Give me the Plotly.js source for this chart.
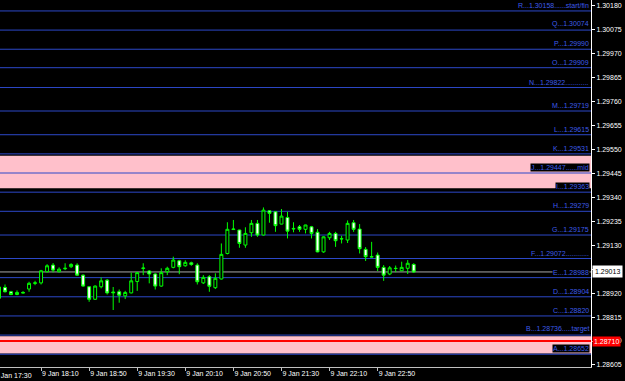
<!DOCTYPE html>
<html><head><meta charset="utf-8">
<script src="https://cdn.plot.ly/plotly-3.0.1.min.js"></script>
<style>html,body{margin:0;padding:0;background:#000;overflow:hidden}#chart{width:625px;height:381px}</style>
</head><body><div id="chart"></div>
<script>
const day = '2013-01-09 ';
const times = ['17:35','17:40','17:45','17:50','17:55',
 '18:00','18:05','18:10','18:15','18:20','18:25','18:30','18:35','18:40','18:45','18:50','18:55',
 '19:00','19:05','19:10','19:15','19:20','19:25','19:30','19:35','19:40','19:45','19:50','19:55',
 '20:00','20:05','20:10','20:15','20:20','20:25','20:30','20:35','20:40','20:45','20:50','20:55',
 '21:00','21:05','21:10','21:15','21:20','21:25','21:30','21:35','21:40','21:45','21:50','21:55',
 '22:00','22:05','22:10','22:15','22:20','22:25','22:30','22:35','22:40','22:45','22:50','22:55',
 '23:00','23:05','23:10','23:15','23:20'];
const open = [1.28947,1.28945,1.28926,1.28914,1.28923,1.28938,1.28963,1.28965,1.29014,1.29043,
 1.29014,1.29027,1.29036,1.29043,1.28999,1.28948,1.28893,1.28948,1.28977,1.28925,
 1.28926,1.28908,1.28921,1.28971,1.29028,1.29017,1.29004,1.28951,1.29014,1.29033,
 1.29062,1.29040,1.29053,1.29043,1.28965,1.28992,1.28944,1.28982,1.29094,1.29199,
 1.29197,1.29131,1.29185,1.29226,1.29175,1.29281,1.29277,1.29223,1.29252,1.29204,
 1.29211,1.29200,1.29211,1.29187,1.29101,1.29163,1.29182,1.29159,1.29153,1.29229,
 1.29201,1.29112,1.29080,1.29087,1.29033,1.29004,1.29029,1.29018,1.29029,1.29046];
const high = [1.28955,1.28958,1.28930,1.28932,1.28929,1.28970,1.28974,1.29022,1.29047,1.29052,
 1.29033,1.29051,1.29051,1.29051,1.29002,1.28951,1.28954,1.28989,1.28982,1.28947,
 1.28936,1.28930,1.29010,1.29011,1.29051,1.29021,1.29007,1.29029,1.29036,1.29080,
 1.29066,1.29064,1.29058,1.29051,1.28999,1.28999,1.29007,1.29138,1.29231,1.29241,
 1.29198,1.29209,1.29241,1.29241,1.29296,1.29284,1.29279,1.29289,1.29277,1.29231,
 1.29219,1.29220,1.29215,1.29201,1.29169,1.29189,1.29189,1.29172,1.29239,1.29241,
 1.29223,1.29122,1.29145,1.29098,1.29043,1.29039,1.29041,1.29058,1.29065,1.29051];
const low = [1.28894,1.28923,1.28911,1.28911,1.28919,1.28926,1.28955,1.28958,1.29011,1.29011,
 1.29011,1.29021,1.29030,1.28996,1.28948,1.28882,1.28890,1.28941,1.28914,1.28846,
 1.28878,1.28894,1.28919,1.28930,1.28999,1.28963,1.28936,1.28948,1.28999,1.29029,
 1.29003,1.29036,1.29040,1.28958,1.28960,1.28926,1.28938,1.28980,1.29090,1.29197,
 1.29119,1.29119,1.29167,1.29167,1.29173,1.29229,1.29189,1.29222,1.29160,1.29187,
 1.29189,1.29182,1.29160,1.29099,1.29097,1.29153,1.29123,1.29138,1.29140,1.29189,
 1.29094,1.29061,1.29077,1.29017,1.28974,1.28999,1.29012,1.29017,1.29004,1.29009];
const close = [1.28898,1.28926,1.28914,1.28923,1.28921,1.28963,1.28965,1.29018,1.29040,1.29021,
 1.29025,1.29029,1.29046,1.28999,1.28951,1.28893,1.28951,1.28974,1.28921,1.28922,
 1.28911,1.28923,1.28974,1.29010,1.29030,1.29004,1.28951,1.29010,1.29029,1.29065,
 1.29036,1.29055,1.29046,1.28970,1.28989,1.28950,1.28985,1.29090,1.29200,1.29201,
 1.29138,1.29182,1.29226,1.29175,1.29284,1.29270,1.29216,1.29258,1.29192,1.29202,
 1.29200,1.29219,1.29182,1.29101,1.29167,1.29182,1.29150,1.29158,1.29226,1.29200,
 1.29115,1.29080,1.29079,1.29033,1.28999,1.29031,1.29028,1.29033,1.29051,1.29013];

const levelPrices = [1.30158,1.30074,1.29990,1.29909,1.29822,1.29719,1.29615,1.29531,1.29447,
 1.29363,1.29279,1.29175,1.29072,1.28988,1.28904,1.28820,1.28736,1.28652];
const levelLabels = ['R...1.30158......start/fin','Q...1.30074','P...1.29990','O...1.29909',
 'N...1.29822............','M...1.29719','L...1.29615','K...1.29531','J...1.29447......mid',
 'I...1.29363','H...1.29279','G...1.29175','F...1.29072............','E...1.28988',
 'D...1.28904','C...1.28820','B...1.28736.....target','A...1.28652'];
const zoneTop = [1.29523, 1.28731];
const zoneBottom = [1.29380, 1.28655];
const bidPrice = 1.29013;
const redPrice = 1.28710;
const priceTicks = [1.28605,1.28710,1.28815,1.28920,1.29025,1.29130,1.29235,1.29340,1.29445,
 1.29550,1.29655,1.29760,1.29865,1.29970,1.30075,1.30180];
const timeTicks = ['18:10','18:50','19:30','20:10','20:50','21:30','22:10','22:50'];
const timeTickText = ['9 Jan 18:10','9 Jan 18:50','9 Jan 19:30','9 Jan 20:10','9 Jan 20:50','9 Jan 21:30','9 Jan 22:10','9 Jan 22:50'];
const firstLabel = '9 Jan 17:30';

const FONT = 'Liberation Sans, Arial, sans-serif';
const LINE_BLUE = '#2c48c8';
const TEXT_BLUE = '#3d5ce8';

const trace = {
  type: 'candlestick',
  x: times.map(t => day + t),
  open: open, high: high, low: low, close: close,
  increasing: {line: {color: '#00ff00', width: 1}, fillcolor: '#000000'},
  decreasing: {line: {color: '#00ff00', width: 1}, fillcolor: '#ffffff'},
  whiskerwidth: 0,
  hoverinfo: 'skip'
};

const shapes = [];
for (let i = 0; i < zoneTop.length; i++) {
  shapes.push({type: 'rect', xref: 'paper', yref: 'y', x0: 0, x1: 1, y0: zoneBottom[i], y1: zoneTop[i],
    fillcolor: '#ffc0cb', line: {width: 0}, layer: 'below'});
}
levelPrices.forEach(p => shapes.push({type: 'line', xref: 'paper', yref: 'y', x0: 0, x1: 1, y0: p, y1: p,
  line: {color: LINE_BLUE, width: 1}, layer: 'below'}));
shapes.push({type: 'line', xref: 'paper', yref: 'y', x0: 0, x1: 1, y0: bidPrice, y1: bidPrice,
  line: {color: '#a8a8a8', width: 1}, layer: 'below'});
shapes.push({type: 'line', xref: 'paper', yref: 'y', x0: 0, x1: 1, y0: redPrice, y1: redPrice,
  line: {color: '#ff0000', width: 2}, layer: 'below'});

const annotations = levelPrices.map((p, i) => ({
  xref: 'paper', yref: 'y', x: 1, y: p, xanchor: 'right', yanchor: 'bottom', xshift: -1, yshift: 1,
  text: levelLabels[i], showarrow: false, bgcolor: '#000000', borderpad: 0,
  font: {family: FONT, size: 7, color: TEXT_BLUE}
}));
annotations.push({xref: 'paper', yref: 'y', x: 1, y: bidPrice, xanchor: 'left', yanchor: 'middle', xshift: 1,
  text: bidPrice.toFixed(5), showarrow: false, bgcolor: '#ffffff', borderpad: 2,
  font: {family: FONT, size: 7, color: '#000000'}});
annotations.push({xref: 'paper', yref: 'y', x: 1, y: redPrice, xanchor: 'left', yanchor: 'middle', xshift: 1,
  text: redPrice.toFixed(5), showarrow: false, bgcolor: '#ff0000', borderpad: 1,
  font: {family: FONT, size: 7, color: '#ffffff'}});
annotations.push({xref: 'paper', yref: 'paper', x: -7/591, y: 0, xanchor: 'left', yanchor: 'top', yshift: -3,
  text: firstLabel, showarrow: false, font: {family: FONT, size: 7, color: '#ffffff'}});

const layout = {
  width: 625, height: 381,
  margin: {l: 0, r: 34, t: 0, b: 14, pad: 0},
  paper_bgcolor: '#000000', plot_bgcolor: '#000000',
  showlegend: false,
  boxgap: 0.3,
  xaxis: {
    type: 'date', range: [day + '17:35:50', '2013-01-10 01:47:30'],
    rangeslider: {visible: false}, showgrid: false, zeroline: false,
    showline: true, linecolor: '#c0c0c0', linewidth: 1,
    ticks: 'outside', ticklen: 3, tickcolor: '#c0c0c0', tickwidth: 1,
    tickvals: timeTicks.map(t => day + t), ticktext: timeTickText,
    ticklabelposition: 'outside right',
    tickfont: {family: FONT, size: 7, color: '#ffffff'}, fixedrange: true
  },
  yaxis: {
    side: 'right', range: [1.28596, 1.30206], showgrid: false, zeroline: false,
    showline: true, linecolor: '#ffffff', linewidth: 1,
    ticks: 'outside', ticklen: 3, tickcolor: '#ffffff', tickwidth: 1,
    tickvals: priceTicks, tickformat: '.5f',
    tickfont: {family: FONT, size: 7, color: '#ffffff'}, fixedrange: true
  },
  shapes: shapes,
  annotations: annotations
};

Plotly.newPlot('chart', [trace], layout, {displayModeBar: false, staticPlot: true});
</script></body></html>
